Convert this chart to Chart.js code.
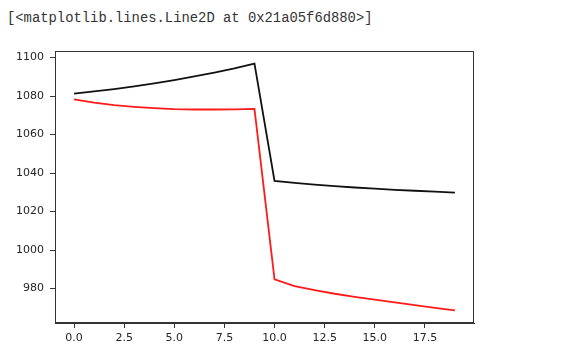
<!DOCTYPE html>
<html>
<head>
<meta charset="utf-8">
<script src="https://cdn.jsdelivr.net/npm/chart.js@4"></script>
<style>
  html, body { margin: 0; padding: 0; background: #fff; width: 562px; height: 359px; overflow: hidden; }
  #out { position: absolute; left: 7px; top: 10px; font-family: "Liberation Mono", "DejaVu Sans Mono", monospace; font-size: 13.85px; color: #333; white-space: pre; }
  #wrap { position: absolute; left: 0; top: 0; width: 562px; height: 359px; }
</style>
</head>
<body>
<div id="out">[&lt;matplotlib.lines.Line2D at 0x21a05f6d880&gt;]</div>
<div id="wrap"><canvas id="c" width="562" height="359"></canvas></div>
<script>
const xValues = [0,1,2,3,4,5,6,7,8,9,10,11,12,13,14,15,16,17,18,19];
const blackSeries = [1081.3,1082.4,1083.6,1085.0,1086.6,1088.3,1090.2,1092.2,1094.4,1096.9,
                     1035.9,1034.9,1034.0,1033.2,1032.5,1031.9,1031.3,1030.8,1030.3,1029.8];
const redSeries = [1078.3,1076.6,1075.3,1074.4,1073.7,1073.2,1073.0,1073.0,1073.1,1073.3,
                   984.8,981.3,979.2,977.3,975.7,974.2,972.8,971.4,970.0,968.7];
const xTicks = [0,2.5,5,7.5,10,12.5,15,17.5];
const yTicks = [980,1000,1020,1040,1060,1080,1100];

const toPts = s => xValues.map((x,i)=>({x:x, y:s[i]}));

const boxPlugin = {
  id: 'box',
  afterDraw(chart) {
    const a = chart.chartArea, ctx = chart.ctx;
    ctx.save();
    ctx.strokeStyle = '#333';
    ctx.lineWidth = 1;
    ctx.strokeRect(Math.round(a.left)+0.5, Math.round(a.top)+0.5, Math.round(a.right-a.left)-1, Math.round(a.bottom-a.top)-1);
    ctx.restore();
  }
};

const tickFont = { family: "DejaVu Sans", size: 11 };

new Chart(document.getElementById('c'), {
  type: 'line',
  data: {
    datasets: [
      { data: toPts(blackSeries), borderColor: '#111', borderWidth: 1.8, pointRadius: 0, tension: 0, fill: false },
      { data: toPts(redSeries), borderColor: '#ff1a1a', borderWidth: 1.8, pointRadius: 0, tension: 0, fill: false }
    ]
  },
  options: {
    responsive: false,
    animation: false,
    layout: { padding: { top: 51, right: 88, left: 0, bottom: 0 } },
    plugins: { legend: { display: false }, tooltip: { enabled: false } },
    scales: {
      x: {
        type: 'linear',
        min: -0.95, max: 19.95,
        afterBuildTicks: s => { s.ticks = xTicks.map(v => ({ value: v })); },
        afterFit: s => { s.height = 36; },
        ticks: { color: '#262626', font: tickFont, padding: 4, maxRotation: 0, autoSkip: false,
                 callback: v => Number(v).toFixed(1) },
        grid: { drawOnChartArea: false, tickLength: 5, color: '#333', tickColor: '#333' },
        border: { color: '#333' }
      },
      y: {
        min: 962.1, max: 1103.4,
        afterBuildTicks: s => { s.ticks = yTicks.map(v => ({ value: v })); },
        afterFit: s => { s.width = 55; },
        ticks: { color: '#262626', font: tickFont, padding: 6, autoSkip: false,
                 callback: v => String(v) },
        grid: { drawOnChartArea: false, tickLength: 5, color: '#333', tickColor: '#333' },
        border: { color: '#333' }
      }
    }
  },
  plugins: [boxPlugin]
});
</script>
</body>
</html>
